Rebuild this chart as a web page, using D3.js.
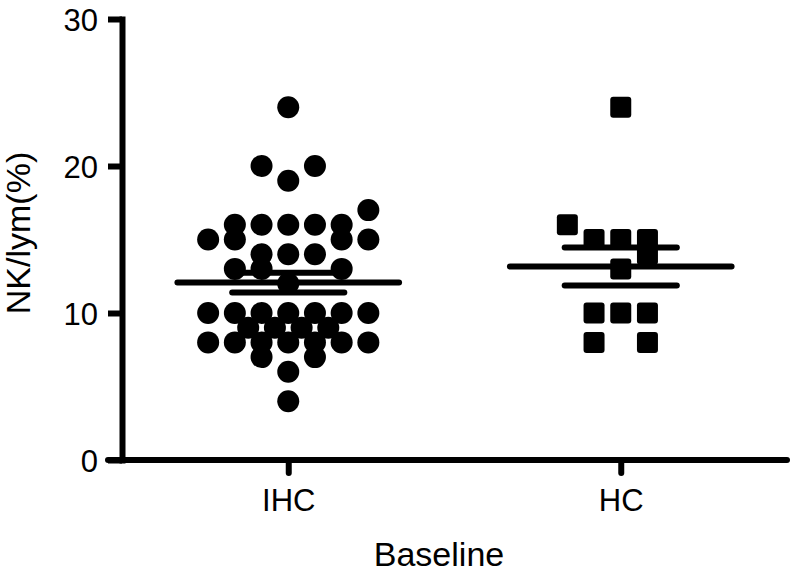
<!DOCTYPE html>
<html>
<head>
<meta charset="utf-8">
<script src="https://cdn.jsdelivr.net/npm/d3@7"></script>
<style>
  html, body { margin: 0; padding: 0; background: #fff; }
  svg { display: block; }
  text { font-family: "Liberation Sans", Arial, Helvetica, sans-serif; fill: #000; }
</style>
</head>
<body>
<div id="chart"></div>
<script>
// groups on the x axis
const groups = ['IHC', 'HC'];
const yTicks = [0, 10, 20, 30];

const ihcValues = [24, 20, 20, 19, 17, 16, 16, 16, 16, 16, 15, 15, 15, 15, 14, 14, 14, 13, 13, 13, 12,
                   10, 10, 10, 10, 10, 10, 10, 9, 9, 9, 9, 8, 8, 8, 8, 8, 8, 8, 7, 7, 6, 4];
const ihcSlots  = [0, -1, 1, 0, 3, -2, -1, 0, 1, 2, -3, -2, 2, 3, -1, 0, 1, -2, -1, 2, 0,
                   -3, -2, -1, 0, 1, 2, 3, -1.5, -0.5, 0.5, 1.5, -3, -2, -1, 0, 1, 2, 3, -1, 1, 0, 0];

const hcValues = [24, 16, 15, 15, 15, 14, 13, 10, 10, 10, 8, 8];
const hcSlots  = [0, -2, -1, 0, 1, 1, 0, -1, 0, 1, -1, 1];

const svgWidth = 793, svgHeight = 575;
const plotLeft = 122, plotRight = 787, plotTop = 19, plotBottom = 460;

const svg = d3.select('#chart').append('svg')
    .attr('width', svgWidth)
    .attr('height', svgHeight);

const x = d3.scalePoint().domain(groups).range([plotLeft, plotRight]).padding(0.5);
const y = d3.scaleLinear().domain([0, 30]).range([plotBottom, plotTop]);
const slot = d3.scaleLinear().domain([0, 1]).range([0, 26.7]);

const series = [
    { name: 'IHC', values: ihcValues, slots: ihcSlots, shape: 'circle' },
    { name: 'HC', values: hcValues, slots: hcSlots, shape: 'square' }
];

// dots
series.forEach(s => {
    const pts = s.values.map((v, i) => ({ v: v, s: s.slots[i] }));
    const g = svg.append('g');
    if (s.shape === 'circle') {
        g.selectAll('circle').data(pts).enter().append('circle')
            .attr('cx', d => x(s.name) + slot(d.s))
            .attr('cy', d => y(d.v))
            .attr('r', 11)
            .attr('fill', '#000');
    } else {
        g.selectAll('rect').data(pts).enter().append('rect')
            .attr('x', d => x(s.name) + slot(d.s) - 10.5)
            .attr('y', d => y(d.v) - 10.5)
            .attr('width', 21)
            .attr('height', 21)
            .attr('rx', 3)
            .attr('fill', '#000');
    }
});

// mean line and SEM bars
series.forEach(s => {
    const mean = d3.mean(s.values);
    const sem = d3.deviation(s.values) / Math.sqrt(s.values.length);
    const cx = x(s.name);
    const lines = [
        { v: mean, half: slot(4.15) },
        { v: mean + sem, half: slot(2.1) },
        { v: mean - sem, half: slot(2.1) }
    ];
    svg.append('g').selectAll('line').data(lines).enter().append('line')
        .attr('x1', d => cx - d.half)
        .attr('x2', d => cx + d.half)
        .attr('y1', d => y(d.v))
        .attr('y2', d => y(d.v))
        .attr('stroke', '#000')
        .attr('stroke-width', 6)
        .attr('stroke-linecap', 'round');
});

// y axis
const yAxis = svg.append('g')
    .attr('transform', `translate(${plotLeft},0)`)
    .call(d3.axisLeft(y).tickValues(yTicks).tickSize(14).tickSizeOuter(0).tickPadding(10));
yAxis.select('.domain').attr('stroke-width', 6).attr('stroke-linecap', 'square');
yAxis.selectAll('.tick line').attr('stroke-width', 6);
yAxis.selectAll('.tick text').attr('font-size', 31).attr('dy', '0.36em');

// x axis
const xAxis = svg.append('g')
    .attr('transform', `translate(0,${plotBottom})`)
    .call(d3.axisBottom(x).tickSize(13).tickSizeOuter(0).tickPadding(16));
xAxis.select('.domain').remove();
xAxis.append('line')
    .attr('x1', plotLeft - 14)
    .attr('x2', plotRight)
    .attr('stroke', '#000')
    .attr('stroke-width', 6)
    .attr('stroke-linecap', 'round');
xAxis.selectAll('.tick line').attr('stroke-width', 6).attr('stroke-linecap', 'round');
xAxis.selectAll('.tick text').attr('font-size', 31);
svg.selectAll('.tick text').attr('font-family', '"Liberation Sans", Arial, sans-serif').attr('fill', '#000');

// axis titles
svg.append('text')
    .attr('x', 439)
    .attr('y', 566)
    .attr('text-anchor', 'middle')
    .attr('font-size', 34)
    .text('Baseline');

svg.append('text')
    .attr('transform', `translate(30,233) rotate(-90)`)
    .attr('text-anchor', 'middle')
    .attr('font-size', 34)
    .text('NK/lym(%)');
</script>
</body>
</html>
